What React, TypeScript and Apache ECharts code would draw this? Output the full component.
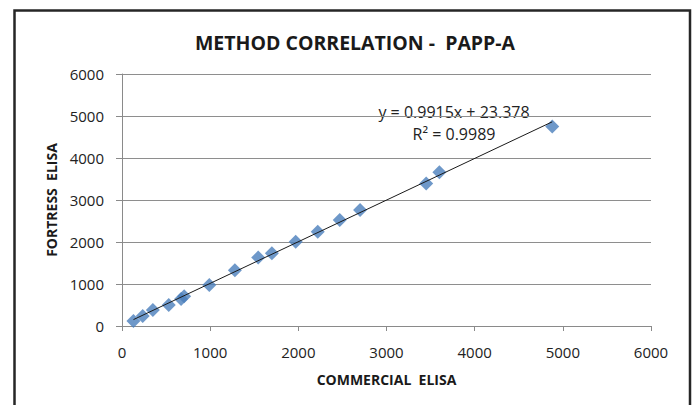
import React, { useEffect, useRef } from "react";
import * as echarts from "echarts";

const commercialElisa = [130, 235, 350, 530, 670, 705, 990, 1280, 1545, 1700, 1970, 2220, 2470, 2700, 3450, 3600, 4880];
const fortressElisa = [120, 240, 380, 500, 640, 710, 975, 1330, 1630, 1730, 2005, 2245, 2525, 2760, 3395, 3660, 4750];
const trendSlope = 0.9915;
const trendIntercept = 23.378;
const rSquared = 0.9989;
const axisMin = 0;
const axisMax = 6000;
const axisStep = 1000;

const FONT = "'Open Sans', 'Liberation Sans', sans-serif";

export default function App() {
  const ref = useRef<HTMLDivElement>(null);
  useEffect(() => {
    if (!ref.current) return;
    const chart = echarts.init(ref.current, undefined, { renderer: "svg" });
    const points = commercialElisa.map((x, i) => [x, fortressElisa[i]]);
    const xMin = Math.min(...commercialElisa);
    const xMax = Math.max(...commercialElisa);
    const trend = [
      [xMin, trendSlope * xMin + trendIntercept],
      [xMax, trendSlope * xMax + trendIntercept],
    ];
    const plain = (v: number) => String(v);
    chart.setOption({
      animation: false,
      backgroundColor: "#ffffff",
      title: {
        text: "METHOD CORRELATION -  PAPP-A",
        left: 350,
        top: 27,
        textAlign: "center",
        textStyle: { fontFamily: FONT, fontSize: 19.5, fontWeight: "bold", color: "#1a1a1a" },
      },
      grid: { left: 122, right: 44, top: 74, bottom: 79 },
      xAxis: {
        type: "value",
        min: axisMin,
        max: axisMax,
        interval: axisStep,
        name: "COMMERCIAL  ELISA",
        nameLocation: "middle",
        nameGap: 46,
        nameTextStyle: { fontFamily: FONT, fontSize: 14, fontWeight: "bold", color: "#1a1a1a" },
        axisLine: { show: true, lineStyle: { color: "#8a8a8a", width: 1 } },
        axisTick: { show: true, length: 5, lineStyle: { color: "#8a8a8a" } },
        axisLabel: { fontFamily: FONT, fontSize: 15, color: "#222", margin: 18, formatter: plain },
        splitLine: { show: false },
      },
      yAxis: {
        type: "value",
        min: axisMin,
        max: axisMax,
        interval: axisStep,
        name: "FORTRESS  ELISA",
        nameLocation: "middle",
        nameGap: 60,
        nameTextStyle: { fontFamily: FONT, fontSize: 14, fontWeight: "bold", color: "#1a1a1a" },
        axisLine: { show: true, lineStyle: { color: "#8a8a8a", width: 1 } },
        axisTick: { show: true, length: 6, lineStyle: { color: "#8a8a8a" } },
        axisLabel: { fontFamily: FONT, fontSize: 15, color: "#222", margin: 18, formatter: plain },
        splitLine: { show: true, lineStyle: { color: "#8e8e8e", width: 1 } },
      },
      series: [
        {
          type: "scatter",
          data: points,
          symbol: "diamond",
          symbolSize: 14,
          itemStyle: { color: "#4A7EBB" },
          z: 2,
        },
        {
          type: "line",
          data: trend,
          symbol: "none",
          lineStyle: { color: "#1a1a1a", width: 1 },
          z: 3,
        },
      ],
      graphic: [
        {
          type: "rect",
          shape: { x: 14.5, y: 10.5, width: 675.5, height: 420 },
          style: { fill: "none", stroke: "#262626", lineWidth: 2.5 },
          silent: true,
        },
        {
          type: "text",
          x: 454,
          y: 112,
          style: {
            text: `y = ${trendSlope}x + ${trendIntercept}`,
            fontFamily: FONT,
            fontSize: 16,
            fill: "#222",
            align: "center",
            verticalAlign: "middle",
          },
        },
        {
          type: "text",
          x: 454,
          y: 134,
          style: {
            text: `R² = ${rSquared}`,
            fontFamily: FONT,
            fontSize: 16,
            fill: "#222",
            align: "center",
            verticalAlign: "middle",
          },
        },
      ],
    });
    return () => chart.dispose();
  }, []);
  return (
    <div
      ref={ref}
      style={{ position: "fixed", left: 0, top: 0, width: 695, height: 405 }}
    />
  );
}
